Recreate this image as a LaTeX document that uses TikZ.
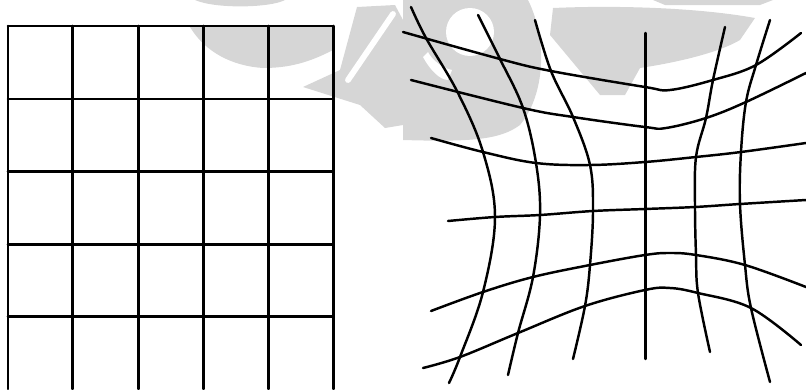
\documentclass[tikz,border=0pt]{standalone}
\usepackage{xcolor}
\usepackage{tikz}
\definecolor{logogray}{RGB}{214,214,214}

\begin{document}
\begin{tikzpicture}[x=0.03cm, y=-0.03cm, line join=round, line cap=round]
  \tikzstyle{gridline} = [draw=black, line width=2.2pt]
  \tikzstyle{warp} = [draw=black, line width=2.1pt]
  \tikzstyle{logo} = [fill=logogray, draw=none]

  \useasboundingbox (0,0) rectangle (806,389);

  % faint watermark behind both grids
  \fill[logo] (195,0) -- (285,0) .. controls (270,8) and (215,9) .. (195,0) -- cycle;
  \fill[logo] (190,27) -- (333,27) -- (333,50) .. controls (310,62) and (290,68) .. (263,68)
    .. controls (232,66) and (205,52) .. (190,27) -- cycle;
  \fill[logo] (303,87) -- (340,70) -- (357,7) -- (395,5) -- (403,20) -- (403,125)
    -- (385,128) -- (360,105) -- cycle;
  \draw[white, line width=5pt] (393,14) -- (348,80);
  \fill[logo] (403,0) -- (528,0) .. controls (548,40) and (545,95) .. (520,125)
    .. controls (500,140) and (470,142) .. (403,140) -- cycle;
  \fill[white] (470,32) circle (24);
  \fill[white] (423,57) .. controls (430,70) and (440,80) .. (448,80) -- (452,70)
    .. controls (442,68) and (432,60) .. (428,52) -- cycle;
  \fill[logo] (553,8) .. controls (620,5) and (700,8) .. (755,18)
    -- (740,40) .. controls (720,52) and (680,62) .. (640,68)
    -- (625,95) -- (600,95) -- (550,35) -- cycle;
  \fill[logo] (653,0) -- (773,0) -- (760,5) -- (665,5) -- cycle;

  % regular grid
  \foreach \gx in {8, 72.7, 138.3, 203.3, 268.7, 333.3}
    \draw[gridline] (\gx,26) -- (\gx,389);
  \foreach \gy in {26, 99, 171.7, 244.3, 316.7}
    \draw[gridline] (8,\gy) -- (333.3,\gy);

  % distorted grid, rows
  \draw[warp] plot[smooth, tension=0.6] coordinates {(403,32) (500,59) (551,71) (645,87) (670,90) (713,80) (756,65) (801,33)};
  \draw[warp] plot[smooth, tension=0.6] coordinates {(411,80) (523,108) (573,117) (645,127) (666,128) (706,118) (746,102) (806,73)};
  \draw[warp] plot[smooth, tension=0.6] coordinates {(431,138) (483,152) (536,163) (590,165) (645,162) (696,157) (741,152) (806,143)};
  \draw[warp] plot[smooth, tension=0.6] coordinates {(448,221) (495,217) (540,215) (593,211) (645,209) (695,207) (740,204) (806,200)};
  \draw[warp] plot[smooth, tension=0.6] coordinates {(431,311) (483,292) (533,277) (590,265) (645,255) (670,253) (696,255) (745,265) (806,287)};
  \draw[warp] plot[smooth, tension=0.6] coordinates {(423,368) (460,357) (518,333) (585,306) (645,290) (670,288) (698,293) (751,308) (801,345)};

  % distorted grid, columns
  \draw[warp] plot[smooth, tension=0.6] coordinates {(411,7) (426,38) (458,93) (483,152) (495,217) (483,292) (460,357) (449,383)};
  \draw[warp] plot[smooth, tension=0.6] coordinates {(478,15) (500,59) (523,108) (536,163) (540,215) (533,277) (518,333) (508,375)};
  \draw[warp] plot[smooth, tension=0.6] coordinates {(535,20) (551,71) (573,117) (590,165) (593,211) (590,265) (585,306) (573,359)};
  \draw[warp] (645.5,33) -- (645.5,359);
  \draw[warp] plot[smooth, tension=0.6] coordinates {(725,27) (713,80) (706,118) (696,157) (695,207) (696,255) (698,293) (710,352)};
  \draw[warp] plot[smooth, tension=0.6] coordinates {(770,20) (756,65) (746,102) (741,152) (740,204) (745,265) (751,308) (770,382)};
\end{tikzpicture}
\end{document}
